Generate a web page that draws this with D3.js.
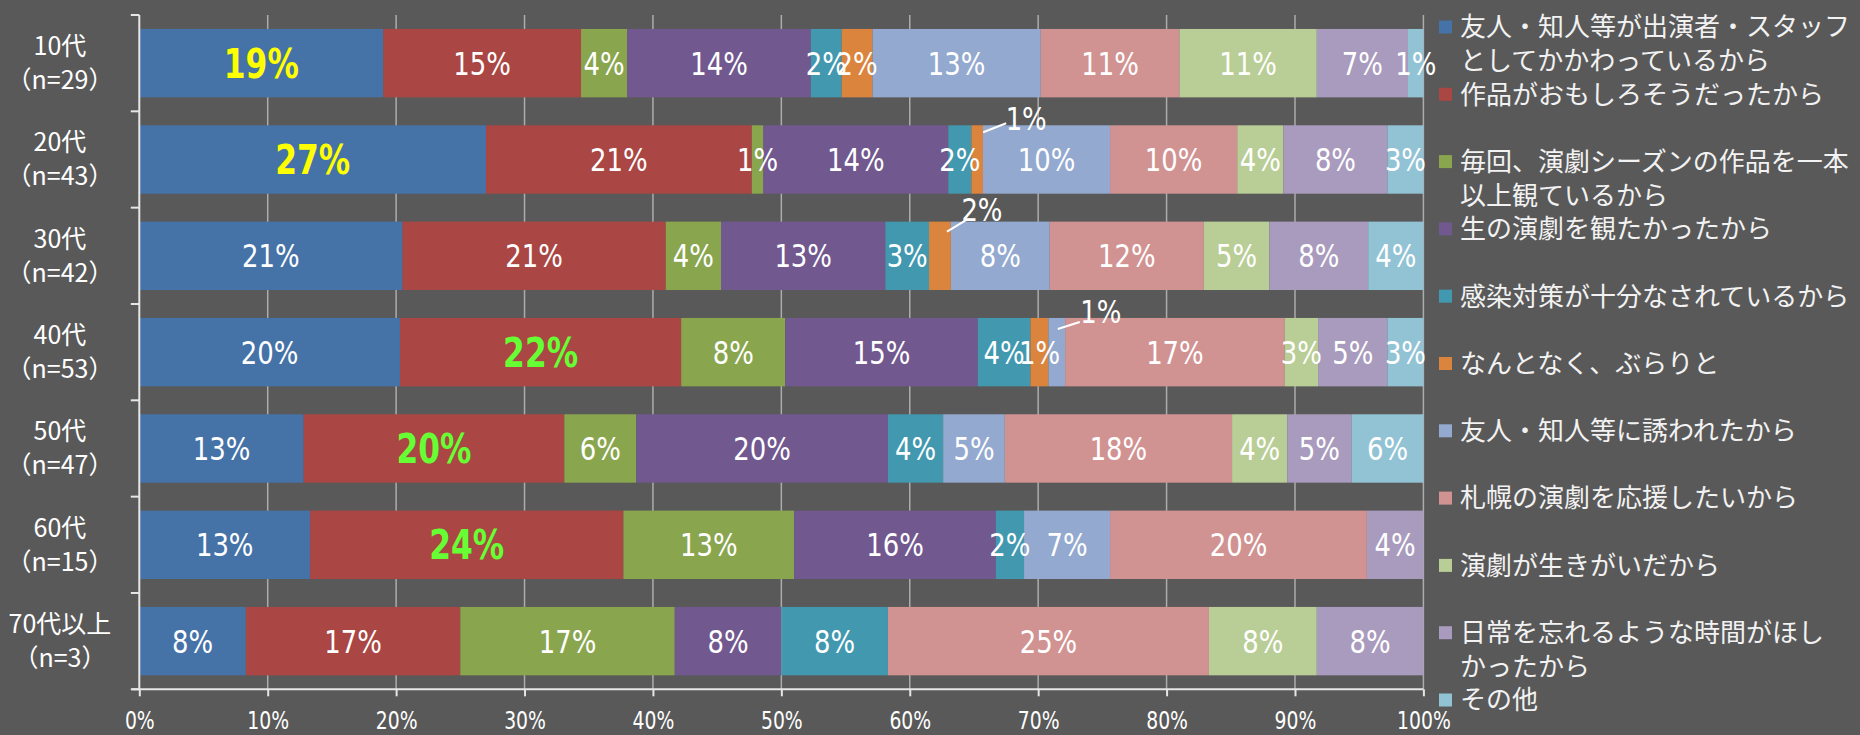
<!DOCTYPE html>
<html lang="ja">
<head>
<meta charset="utf-8">
<script src="https://cdn.jsdelivr.net/npm/d3@7"></script>
<style>
  html, body { margin: 0; padding: 0; background: #595959; }
  svg { display: block; }
</style>
</head>
<body>
<svg id="chart" width="1860" height="735"></svg>
<script>
// Age groups and respondent counts
const ageGroups = ["10代", "20代", "30代", "40代", "50代", "60代", "70代以上"];
const sampleSizes = [29, 43, 42, 53, 47, 15, 3];

// Reasons for attending (series), "\n" marks the legend line break
const reasons = [
  "友人・知人等が出演者・スタッフ\nとしてかかわっているから",
  "作品がおもしろそうだったから",
  "毎回、演劇シーズンの作品を一本\n以上観ているから",
  "生の演劇を観たかったから",
  "感染対策が十分なされているから",
  "なんとなく、ぶらりと",
  "友人・知人等に誘われたから",
  "札幌の演劇を応援したいから",
  "演劇が生きがいだから",
  "日常を忘れるような時間がほし\nかったから",
  "その他"
];

// Share of answers (%) per age group, in the order of `reasons`
const shares10s = [19.0, 15.4, 3.6, 14.3, 2.4, 2.4, 13.1, 10.8, 10.7, 7.1, 1.2];
const shares20s = [27.0, 20.7, 0.9, 14.4, 1.8, 0.9, 9.9, 9.9, 3.6, 8.1, 2.8];
const shares30s = [20.5, 20.5, 4.3, 12.8, 3.4, 1.7, 7.7, 12.0, 5.1, 7.7, 4.3];
const shares40s = [20.3, 21.9, 8.1, 15.0, 4.1, 1.4, 1.3, 17.1, 2.6, 5.4, 2.8];
const shares50s = [12.8, 20.3, 5.6, 19.6, 4.3, 0, 4.8, 17.7, 4.3, 5.0, 5.6];
const shares60s = [13.3, 24.4, 13.3, 15.7, 2.2, 0, 6.7, 20.0, 0, 4.4, 0];
const shares70s = [8.3, 16.7, 16.7, 8.3, 8.3, 0, 0, 25.0, 8.4, 8.3, 0];
const sharesByAge = [shares10s, shares20s, shares30s, shares40s, shares50s, shares60s, shares70s];

// Axis tick values (%)
const xTicks = [0, 10, 20, 30, 40, 50, 60, 70, 80, 90, 100];

// Emphasised labels (age group, series index, colour)
const highlights = [
  { age: "10代", series: 0, color: "#ffff00" },
  { age: "20代", series: 0, color: "#ffff00" },
  { age: "40代", series: 1, color: "#66ff33" },
  { age: "50代", series: 1, color: "#66ff33" },
  { age: "60代", series: 1, color: "#66ff33" }
];

// Labels of thin segments moved outside with a leader line
// (offsets from the segment's top centre: leader start, leader end, text centre)
const callouts = [
  { age: "20代", series: 5, start: [6, 7], end: [29, -2], text: [49, -7] },
  { age: "30代", series: 5, start: [7, 10], end: [27, -2], text: [42, -12] },
  { age: "40代", series: 6, start: [1, 11], end: [23, 4], text: [44, -6] }
];

const colors = ["#4572A7", "#AA4643", "#89A54E", "#71588F", "#4198AF", "#DB843D",
                "#93A9CF", "#D19392", "#B9CD96", "#A99BBD", "#92C3D5"];

const numFont = "'DejaVu Sans Condensed', 'DejaVu Sans', sans-serif";
const jpFont = "'Noto Sans CJK JP', 'Noto Sans', sans-serif";

const svg = d3.select("#chart");
svg.append("rect").attr("width", 1860).attr("height", 735).attr("fill", "#595959");

const x = d3.scaleLinear().domain([0, 100]).range([139.3, 1423.4]);
const y = d3.scaleBand().domain(ageGroups).range([15, 689.3])
  .paddingInner(0.29).paddingOuter(0.145);
const color = d3.scaleOrdinal().domain(d3.range(reasons.length)).range(colors);

// Build rows for stacking
const rows = ageGroups.map((g, i) => {
  const r = { age: g };
  sharesByAge[i].forEach((v, k) => r[k] = v);
  return r;
});
const stack = d3.stack().keys(d3.range(reasons.length));
const series = stack(rows);

// Vertical gridlines
svg.append("g")
  .selectAll("line")
  .data(xTicks.filter(t => t > 0))
  .join("line")
  .attr("x1", d => x(d)).attr("x2", d => x(d))
  .attr("y1", y.range()[0]).attr("y2", y.range()[1])
  .attr("stroke", "#acacac").attr("stroke-width", 1.5);

// Bars
const layer = svg.append("g")
  .selectAll("g")
  .data(series)
  .join("g")
  .attr("fill", d => color(d.key));

layer.selectAll("rect")
  .data(d => d.map(s => ({ s, key: d.key })))
  .join("rect")
  .attr("x", d => x(d.s[0]))
  .attr("width", d => Math.max(0, x(d.s[1]) - x(d.s[0])))
  .attr("y", d => y(d.s.data.age))
  .attr("height", y.bandwidth());

// Left axis line with category boundary ticks
const axisColor = "#e6e6e6";
const yAxis = svg.append("g");
yAxis.append("line")
  .attr("x1", x(0)).attr("x2", x(0))
  .attr("y1", y.range()[0]).attr("y2", y.range()[1])
  .attr("stroke", axisColor).attr("stroke-width", 2);
const boundaries = d3.range(ageGroups.length + 1).map(i => y.range()[0] + i * y.step());
yAxis.selectAll("line.tick")
  .data(boundaries)
  .join("line")
  .attr("class", "tick")
  .attr("x1", x(0) - 8.5).attr("x2", x(0))
  .attr("y1", d => d).attr("y2", d => d)
  .attr("stroke", axisColor).attr("stroke-width", 2);

// Category labels (two lines)
const catLabels = svg.append("g")
  .attr("font-family", jpFont).attr("font-size", 25).attr("fill", "#ffffff")
  .attr("text-anchor", "middle");
ageGroups.forEach((g, i) => {
  const cy = y(g) + y.bandwidth() / 2;
  catLabels.append("text").attr("x", 60).attr("y", cy - 17).attr("dy", "0.36em").text(g);
  catLabels.append("text").attr("x", 60).attr("y", cy + 17).attr("dy", "0.36em")
    .text("（n=" + sampleSizes[i] + "）");
});

// Bottom axis
const xAxis = svg.append("g")
  .attr("transform", `translate(0,${y.range()[1]})`)
  .call(d3.axisBottom(x).tickValues(xTicks).tickFormat(d => d + "%").tickSize(7).tickSizeOuter(0));
xAxis.select(".domain").remove();
xAxis.append("line")
  .attr("x1", x(0) - 7.6).attr("x2", x(100))
  .attr("stroke", axisColor).attr("stroke-width", 2);
xAxis.selectAll(".tick line").attr("stroke", axisColor).attr("stroke-width", 2);
xAxis.selectAll(".tick text")
  .attr("fill", "#ffffff")
  .attr("font-family", numFont)
  .attr("font-size", 24)
  .attr("y", 0)
  .attr("dy", "0.36em")
  .attr("transform", "translate(0,31) scale(0.87,1)");

// Value labels (narrowed horizontally)
const fmt = v => Math.round(v) + "%";
const isHighlight = (age, k) => highlights.find(h => h.age === age && h.series === k);
const isCallout = (age, k) => callouts.find(c => c.age === age && c.series === k);

const labels = svg.append("g").attr("text-anchor", "middle").attr("font-family", numFont);
function valueText(px, py, v, h) {
  labels.append("text")
    .attr("transform", `translate(${px},${py}) scale(${h ? 0.87 : 0.9},1)`)
    .attr("dy", "0.36em")
    .attr("font-size", h ? 40 : 32)
    .attr("font-weight", h ? "bold" : "normal")
    .attr("fill", h ? h.color : "#ffffff")
    .text(fmt(v));
}
series.forEach(s => {
  const k = s.key;
  s.forEach(seg => {
    const age = seg.data.age;
    const v = seg[1] - seg[0];
    if (v <= 0) return;
    const cx = (x(seg[0]) + x(seg[1])) / 2;
    const top = y(age);
    const cy = top + y.bandwidth() / 2;
    const c = isCallout(age, k);
    const h = isHighlight(age, k);
    if (c) {
      labels.append("line")
        .attr("x1", cx + c.start[0]).attr("y1", top + c.start[1])
        .attr("x2", cx + c.end[0]).attr("y2", top + c.end[1])
        .attr("stroke", "#ffffff").attr("stroke-width", 2);
      valueText(cx + c.text[0], top + c.text[1], v, null);
    } else {
      valueText(cx, cy, v, h);
    }
  });
});

// Legend: each entry occupies two line slots
const legend = svg.append("g").attr("font-family", jpFont).attr("font-size", 26).attr("fill", "#f2f2f2");
const slot = 33.65, legendTop = 27;
reasons.forEach((name, i) => {
  const ly = legendTop + i * 2 * slot;
  legend.append("rect")
    .attr("x", 1439).attr("y", ly - 6.5).attr("width", 13).attr("height", 13)
    .attr("fill", color(i));
  name.split("\n").forEach((line, j) => {
    legend.append("text")
      .attr("x", 1460).attr("y", ly + j * slot).attr("dy", "0.36em")
      .text(line);
  });
});
</script>
</body>
</html>
